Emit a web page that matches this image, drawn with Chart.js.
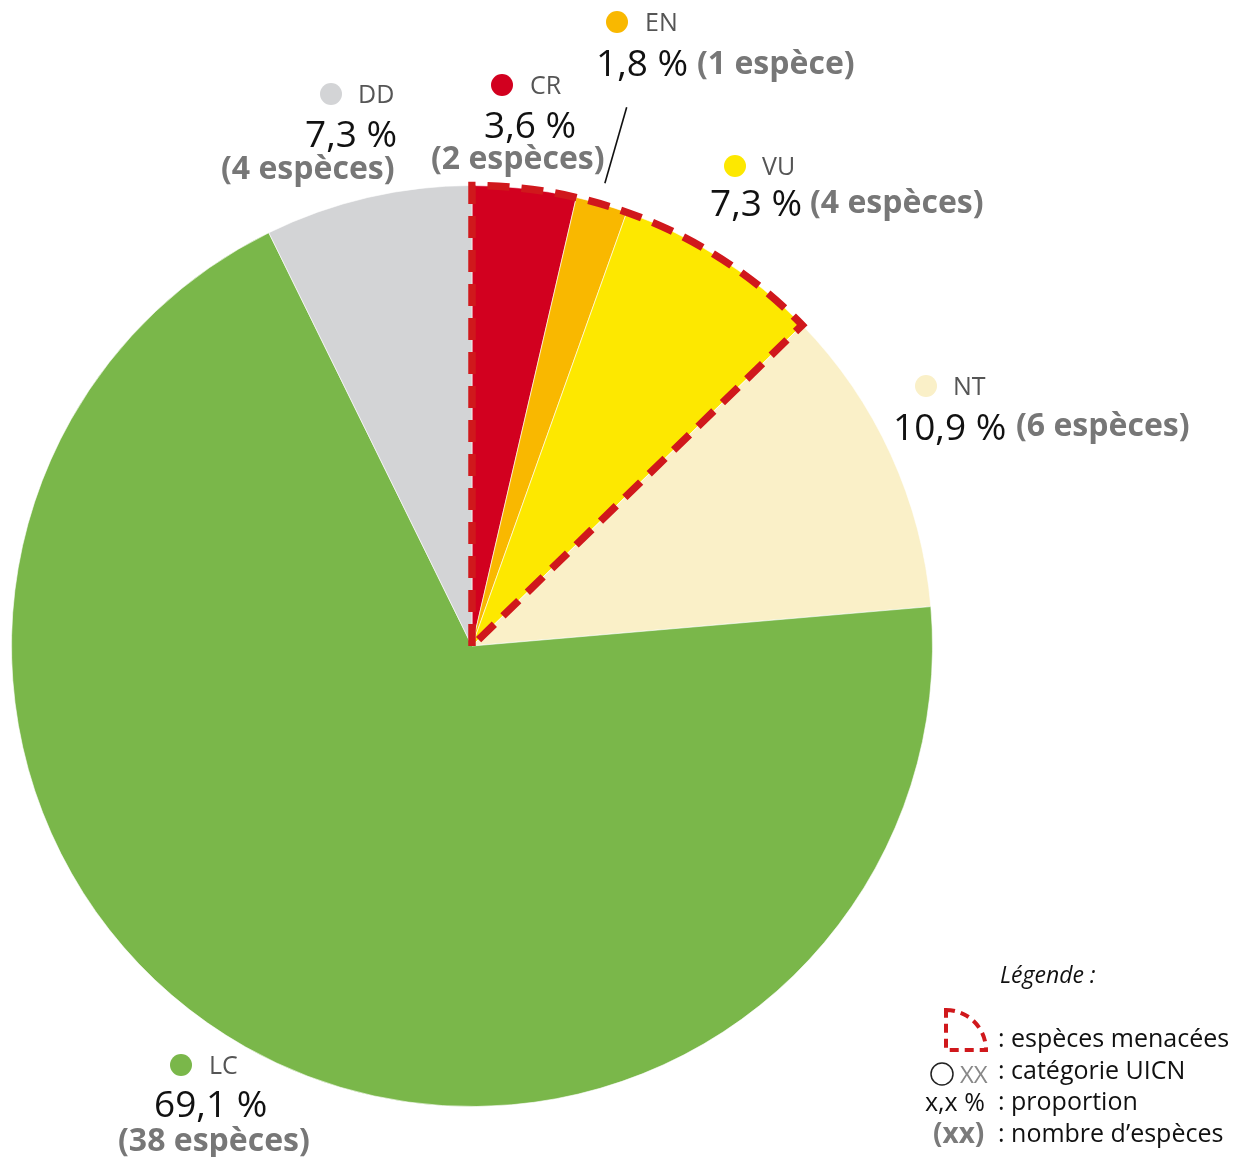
<!DOCTYPE html>
<html lang="fr">
<head>
<meta charset="utf-8">
<title>Espèces par catégorie UICN</title>
<script src="https://cdn.jsdelivr.net/npm/chart.js@4"></script>
<style>
  body { margin: 0; background: #fff; font-family: "Open Sans", sans-serif; }
  #wrap { position: relative; width: 1247px; height: 1157px; overflow: hidden; }
  #pie { position: absolute; left: 0; top: 0; }
  .t { position: absolute; white-space: nowrap; line-height: 1; }
  .dot { position: absolute; border-radius: 50%; }
</style>
</head>
<body>
<div id="wrap">
  <canvas id="pie" width="1247" height="1157"></canvas>
  <svg width="1247" height="1157" style="position:absolute;left:0;top:0;pointer-events:none">
    <!-- legend icon : quart de cercle pointillé -->
    <path d="M946 1010 A40 40 0 0 1 986 1050 L946 1050 Z" fill="none" stroke="#D0181C"
          stroke-width="4" stroke-dasharray="9 6"/>
    <circle cx="942" cy="1074" r="11" fill="none" stroke="#222" stroke-width="1.5"/>
  </svg>
</div>

<script>
// Catégories UICN (dans l'ordre du graphique, sens horaire depuis le haut)
const categories = ["CR", "EN", "VU", "NT", "LC", "DD"];
const nbEspeces  = [2, 1, 4, 6, 38, 4];
const pourcents  = ["3,6 %", "1,8 %", "7,3 %", "10,9 %", "69,1 %", "7,3 %"];
const couleurs   = ["#D2001F", "#F9B800", "#FDE800", "#FAF0C8", "#7AB74A", "#D3D4D6"];
const menacees   = ["CR", "EN", "VU"];

// Texte des nombres d'espèces
function txtNb(n) { return "(" + n + (n > 1 ? " espèces)" : " espèce)"); }

// Placement des étiquettes (x, ligne de base)
const etiquettes = {
  CR: { dot: [502, 85], cat: [530, 94], pct: [484, 138], nb: [431, 169] },
  EN: { dot: [617, 22], cat: [645, 31], pct: [596, 76],  nb: [697, 74] },
  VU: { dot: [735, 166], cat: [762, 175], pct: [710, 216], nb: [810, 213] },
  NT: { dot: [926, 386], cat: [953, 395], pct: [893, 440], nb: [1016, 436] },
  LC: { dot: [181, 1065], cat: [209, 1074], pct: [154, 1117], nb: [118, 1151] },
  DD: { dot: [331, 94], cat: [358, 103], pct: [305, 147], nb: [221, 179] }
};

const wrap = document.getElementById("wrap");
function addText(txt, x, base, size, opts) {
  opts = opts || {};
  const el = document.createElement("div");
  el.className = "t";
  el.textContent = txt;
  el.style.left = x + "px";
  el.style.top = (base - 0.888 * size) + "px";
  el.style.fontSize = size + "px";
  el.style.color = opts.color || "#111";
  if (opts.bold) el.style.fontWeight = "700";
  if (opts.italic) el.style.fontStyle = "italic";
  wrap.appendChild(el);
}
function addDot(cx, cy, r, col) {
  const d = document.createElement("div");
  d.className = "dot";
  d.style.left = (cx - r) + "px";
  d.style.top = (cy - r) + "px";
  d.style.width = d.style.height = (2 * r) + "px";
  d.style.background = col;
  wrap.appendChild(d);
}

categories.forEach((c, i) => {
  const e = etiquettes[c];
  addDot(e.dot[0], e.dot[1], 11, couleurs[i]);
  addText(c, e.cat[0], e.cat[1], 25, { color: "#555" });
  addText(pourcents[i], e.pct[0], e.pct[1], 37);
  addText(txtNb(nbEspeces[i]), e.nb[0], e.nb[1], 32, { bold: true, color: "#777" });
});

// Légende
addText("Légende :", 1000, 983, 23, { italic: true, color: "#111" });
addText(": espèces menacées", 998, 1047, 25);
addText("XX", 960, 1083, 24, { color: "#888" });
addText(": catégorie UICN", 998, 1079, 25);
addText("x,x %", 925, 1111, 25);
addText(": proportion", 998, 1110, 25);
addText("(xx)", 933, 1143, 28, { bold: true, color: "#7a7a7a" });
addText(": nombre d’espèces", 998, 1142, 25);

// Contour pointillé des espèces menacées + trait de rappel EN
const contourMenacees = {
  id: "contourMenacees",
  afterDatasetsDraw(chart) {
    const ctx = chart.ctx;
    const arcs = chart.getDatasetMeta(0).data;
    const idx = menacees.map(m => categories.indexOf(m));
    const first = arcs[idx[0]], last = arcs[idx[idx.length - 1]];
    const { x, y, outerRadius } = first;
    const a0 = first.startAngle, a1 = last.endAngle;

    ctx.save();
    ctx.beginPath();
    ctx.moveTo(x, y);
    ctx.lineTo(x + Math.cos(a0) * outerRadius, y + Math.sin(a0) * outerRadius);
    ctx.arc(x, y, outerRadius, a0, a1);
    ctx.closePath();
    ctx.setLineDash([22, 12]);
    ctx.lineWidth = 7.5;
    ctx.strokeStyle = "#D0181C";
    ctx.lineJoin = "miter";
    ctx.stroke();

    // trait de rappel pour EN
    const en = arcs[categories.indexOf("EN")];
    const mid = (en.startAngle + en.endAngle) / 2 - 0.006;
    ctx.setLineDash([]);
    ctx.lineWidth = 1.6;
    ctx.strokeStyle = "#111";
    ctx.beginPath();
    ctx.moveTo(x + Math.cos(mid) * (outerRadius + 21), y + Math.sin(mid) * (outerRadius + 21));
    ctx.lineTo(x + Math.cos(mid) * (outerRadius + 100), y + Math.sin(mid) * (outerRadius + 100));
    ctx.stroke();
    ctx.restore();
  }
};

new Chart(document.getElementById("pie"), {
  type: "pie",
  data: {
    labels: categories,
    datasets: [{
      data: nbEspeces,
      backgroundColor: couleurs,
      borderColor: "rgba(255,255,255,0.6)",
      borderWidth: 1,
      hoverOffset: 0,
      offset: 0
    }]
  },
  options: {
    responsive: false,
    animation: false,
    events: [],
    layout: { padding: { left: 11, right: 314, top: 185, bottom: 50 } },
    plugins: { legend: { display: false }, tooltip: { enabled: false } }
  },
  plugins: [contourMenacees]
});
</script>
</body>
</html>
